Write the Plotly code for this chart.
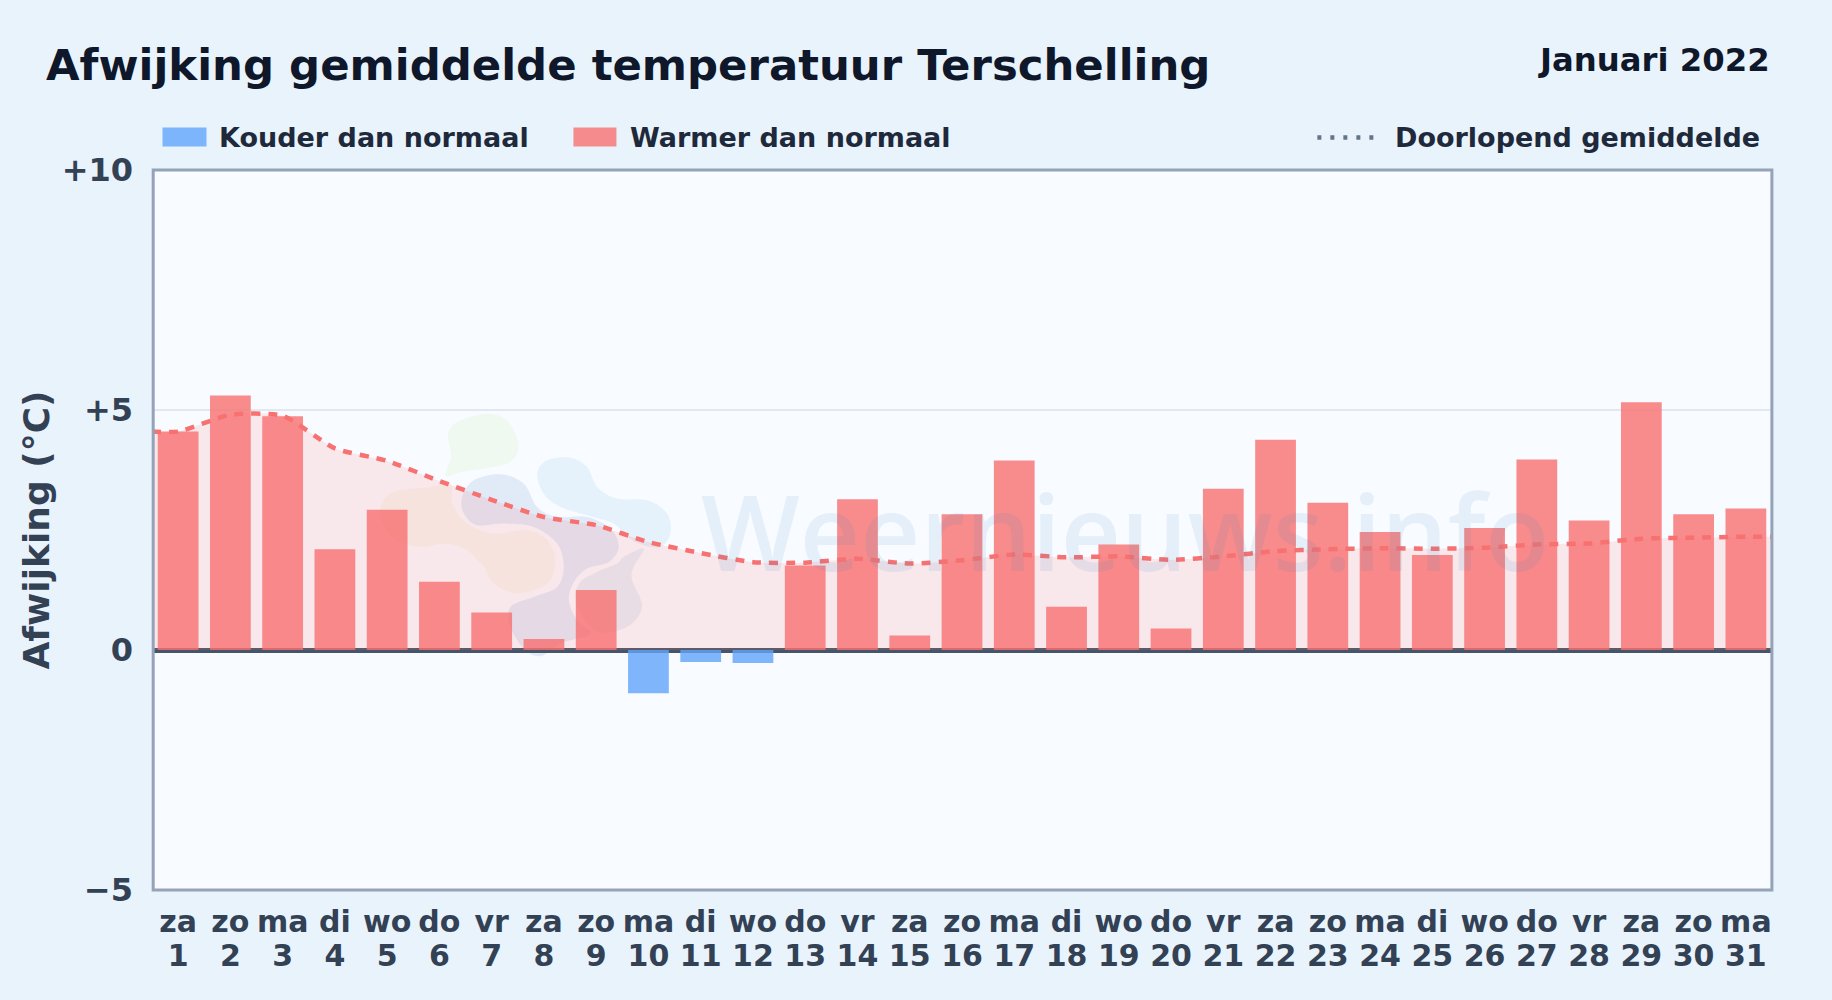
import plotly.graph_objects as go

weekdays = ["za","zo","ma","di","wo","do","vr","za","zo","ma","di","wo","do","vr","za","zo","ma","di","wo","do","vr","za","zo","ma","di","wo","do","vr","za","zo","ma"]
days = list(range(1, 32))
deviation = [4.55,5.30,4.87,2.10,2.92,1.42,0.78,0.23,1.25,-0.90,-0.25,-0.27,1.76,3.14,0.30,2.83,3.95,0.90,2.20,0.45,3.36,4.38,3.07,2.46,1.98,2.54,3.97,2.70,5.16,2.83,2.95]
running_mean = [4.55,4.90,4.88,4.20,3.94,3.52,3.13,2.77,2.60,2.25,2.02,1.83,1.82,1.90,1.80,1.87,1.99,1.93,1.95,1.88,1.95,2.06,2.10,2.12,2.11,2.13,2.20,2.22,2.32,2.34,2.36]
y_ticks = [-5, 0, 5, 10]
y_labels = ["−5", "0", "+5", "+10"]

W, H = 1832, 1000
L, R, T, B = 151.5, 1771.7, 169.5, 890
FONT = "DejaVu Sans"
COLD = "rgba(96,165,250,0.8)"
WARM = "rgba(248,113,113,0.8)"

def px(x): return (x - L) / (R - L)
def py(y): return (B - y) / (B - T)

def blob(points):
    """Closed smooth outline through zoom-crop points, in paper coordinates."""
    pts = [(x / 3 + 360, y / 3 + 400) for x, y in points]
    n = len(pts)
    d = f"M{px(pts[0][0]):.4f},{py(pts[0][1]):.4f}"
    for i in range(n):
        p0, p1, p2, p3 = pts[i - 1], pts[i], pts[(i + 1) % n], pts[(i + 2) % n]
        c1 = (p1[0] + (p2[0] - p0[0]) / 6, p1[1] + (p2[1] - p0[1]) / 6)
        c2 = (p2[0] - (p3[0] - p1[0]) / 6, p2[1] - (p3[1] - p1[1]) / 6)
        d += f" C{px(c1[0]):.4f},{py(c1[1]):.4f} {px(c2[0]):.4f},{py(c2[1]):.4f} {px(p2[0]):.4f},{py(p2[1]):.4f}"
    return dict(type="path", path=d + " Z", xref="paper", yref="paper", layer="below", line_width=0)

green = [(265,90),(300,60),(380,40),(440,60),(472,120),(470,160),(440,190),(370,205),(300,215),(255,228),(272,170),(265,125)]
orange = [(60,320),(100,275),(200,262),(270,250),(275,310),(320,370),(400,400),(500,390),(560,420),(585,480),(560,550),(470,580),(400,550),(370,500),(320,450),(260,430),(180,440),(110,420),(70,380)]
purple = [(305,290),(340,240),(420,222),(490,250),(530,320),(590,350),(680,350),(750,385),(775,440),(745,485),(680,505),(640,545),(625,600),(650,660),(690,700),(600,730),(540,768),(490,745),(450,680),(450,620),(520,590),(590,560),(610,500),(590,430),(520,380),(430,370),(350,375),(310,340)]
purple2 = [(790,470),(850,445),(820,500),(815,540),(845,620),(800,680),(715,695),(660,640),(645,590),(660,545),(710,515),(770,490)]
sky = [(530,220),(560,180),(630,172),(680,200),(710,260),(770,295),(860,300),(920,340),(930,400),(900,440),(850,435),(800,410),(760,370),(680,345),(600,320),(550,280)]

shapes = []
for pts, col in [(green, "rgba(178,231,105,0.10)"), (orange, "rgba(235,205,100,0.10)"),
                 (sky, "rgba(68,171,225,0.10)"), (purple, "rgba(50,110,190,0.11)"), (purple2, "rgba(50,110,190,0.09)")]:
    s = blob(pts); s["fillcolor"] = col; shapes.append(s)

# plot frame
shapes.append(dict(type="rect", xref="paper", yref="paper", x0=px(152.7), x1=px(1771.6), y0=py(890), y1=py(169.5),
                   line=dict(color="#94a3b8", width=3), fillcolor="rgba(0,0,0,0)", layer="above"))

# hand-built legend swatches
for x0, x1, col in [(162, 206, COLD), (573, 616, WARM)]:
    shapes.append(dict(type="rect", xref="paper", yref="paper", x0=px(x0), x1=px(x1), y0=py(146), y1=py(127), fillcolor=col, line_width=0))
shapes.append(dict(type="line", xref="paper", yref="paper", x0=px(1317), x1=px(1375), y0=py(137), y1=py(137), line=dict(color="#64748b", width=4.5, dash="4px,9px")))

def note(text, x, y, size, anchor="left", color="#1e293b"):
    return dict(text=text, xref="paper", yref="paper", x=px(x), y=py(y), xanchor=anchor, yanchor="middle", showarrow=False,
                font=dict(family=FONT, size=size, color=color, weight=700))

annotations = [
    note("Januari 2022", 1772, 59, 32.3, "right", "#0f172a"),
    note("Kouder dan normaal", 216.5, 137, 27),
    note("Warmer dan normaal", 627.5, 137, 27),
    note("Doorlopend gemiddelde", 1392.5, 137, 27),
    dict(text="Weernieuws.info", xref="paper", yref="paper", x=px(1125), y=py(530), xanchor="center", yanchor="middle", showarrow=False,
         font=dict(family="Open Sans", size=104.5, color="rgba(58,141,195,0.10)", weight=600)),
]

cold_days = [d for d, v in zip(days, deviation) if v < 0]
cold_vals = [v for v in deviation if v < 0]
warm_days = [d for d, v in zip(days, deviation) if v >= 0]
warm_vals = [v for v in deviation if v >= 0]
line_x = [0.5] + days + [31.5]
line_y = [running_mean[0]] + running_mean + [running_mean[-1]]

fig = go.Figure()
fig.add_trace(go.Scatter(x=line_x, y=line_y, mode="lines", line=dict(shape="spline", smoothing=0.6, width=0), fill="tozeroy",
                         fillcolor="rgba(248,113,113,0.14)", hoverinfo="skip", showlegend=False))
fig.add_trace(go.Bar(x=cold_days, y=cold_vals, name="Kouder dan normaal", marker=dict(color=COLD, line_width=0), width=0.78))
fig.add_trace(go.Bar(x=warm_days, y=warm_vals, name="Warmer dan normaal", marker=dict(color=WARM, line_width=0), width=0.78))
fig.add_trace(go.Scatter(x=line_x, y=line_y, mode="lines", name="Doorlopend gemiddelde", xaxis="x2",
                         line=dict(color="#f87171", width=4.5, dash="9px,8px", shape="spline", smoothing=0.6)))

tick_font = dict(family=FONT, size=30, color="#334155", weight=700)
fig.update_layout(
    width=W, height=H, autosize=False, showlegend=False, barmode="overlay",
    margin=dict(l=L, r=W - R, t=T, b=H - B, pad=0),
    paper_bgcolor="#e9f3fc", plot_bgcolor="#f8fbff",
    title=dict(text="Afwijking gemiddelde temperatuur Terschelling", xref="container", yref="container",
               x=46 / W, y=1 - 65 / H, xanchor="left", yanchor="middle",
               font=dict(family=FONT, size=43.4, color="#0f172a", weight=700)),
    xaxis=dict(range=[0.5, 31.5], tickmode="array", tickvals=days, ticktext=weekdays,
               tickfont=tick_font, ticks="", showgrid=False, zeroline=False, showline=False, ticklabelstandoff=11),
    xaxis2=dict(range=[0.5, 31.5], overlaying="x", side="bottom", anchor="y", tickmode="array", tickvals=days, ticktext=[str(d) for d in days],
                tickfont=tick_font, ticks="", showgrid=False, zeroline=False, showline=False, ticklabelstandoff=45),
    yaxis=dict(range=[-5, 10], tickmode="array", tickvals=y_ticks, ticktext=y_labels,
               tickfont=dict(family=FONT, size=32, color="#334155", weight=700), ticks="", ticklabelstandoff=18,
               showgrid=True, gridcolor="#e2e8f0", gridwidth=2,
               zeroline=True, zerolinecolor="#475569", zerolinewidth=4.5, showline=False,
               title=dict(text="Afwijking (°C)", standoff=1, font=dict(family=FONT, size=36, color="#334155", weight=700))),
    shapes=shapes, annotations=annotations,
)

fig.write_html("out.html", config={"displayModeBar": False},
               post_script="document.body.style.margin='0';document.body.style.overflow='hidden';")
